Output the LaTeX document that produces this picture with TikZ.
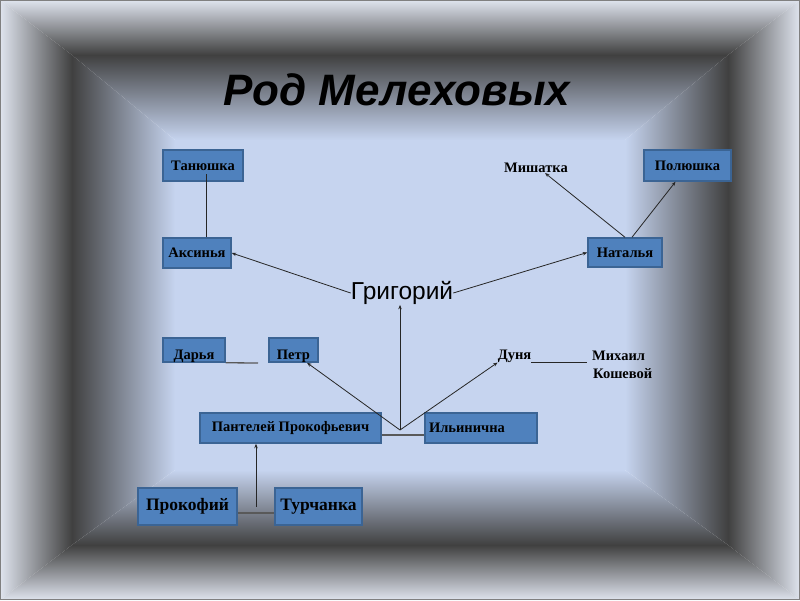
\documentclass[tikz,border=0pt]{standalone}
\usepackage{fontspec}
\setmainfont{Liberation Serif}
\newfontfamily\sansf{Liberation Sans}
\usetikzlibrary{arrows.meta,calc}
\definecolor{edgeC}{HTML}{DFE4EE}
\definecolor{darkC}{HTML}{404040}
\definecolor{lightC}{HTML}{C6D4EF}
\definecolor{boxF}{HTML}{4F81BD}
\definecolor{boxD}{HTML}{3B6494}
\begin{document}
\begin{tikzpicture}[x=1pt,y=-1pt,
 box/.style={draw=boxD, line width=1.5pt, fill=boxF, inner sep=0pt, font=\bfseries\fontsize{14.5}{16}\selectfont},
 bigbox/.style={box, font=\bfseries\fontsize{17.5}{20}\selectfont},
 plain/.style={inner sep=0pt, font=\bfseries\fontsize{14.5}{18}\selectfont},
 arr/.style={draw=black!85, line width=0.8pt, -{Stealth[length=4.5pt,width=3.5pt]}},
 link/.style={draw=black!65, line width=1.3pt},
 thinline/.style={draw=black!85, line width=0.8pt}]
% ---------- background frame ----------
\useasboundingbox (0,0) rectangle (800,600);
\fill[lightC] (175,140) rectangle (625,470);
% inner bands
\shade[left color=darkC, right color=lightC] (72,55) -- (175,140) -- (175,470) -- (72,545) -- cycle;
\shade[left color=lightC, right color=darkC] (728,55) -- (625,140) -- (625,470) -- (728,545) -- cycle;
\shade[top color=darkC, bottom color=lightC] (72,55) -- (728,55) -- (625,140) -- (175,140) -- cycle;
\shade[top color=lightC, bottom color=darkC] (175,470) -- (625,470) -- (728,545) -- (72,545) -- cycle;
% outer bands
\shade[left color=edgeC, right color=darkC] (0,0) -- (72,55) -- (72,545) -- (0,600) -- cycle;
\shade[left color=darkC, right color=edgeC] (800,0) -- (728,55) -- (728,545) -- (800,600) -- cycle;
\shade[top color=edgeC, bottom color=darkC] (0,0) -- (800,0) -- (728,55) -- (72,55) -- cycle;
\shade[top color=darkC, bottom color=edgeC] (72,545) -- (728,545) -- (800,600) -- (0,600) -- cycle;
\draw[gray, line width=1pt] (0.5,0.5) rectangle (799.5,599.5);
% ---------- title ----------
\node[inner sep=0pt, font=\sansf\bfseries\itshape\fontsize{44}{48}\selectfont] (title) at (397,90) {Род Мелеховых};
% ---------- nodes ----------
\node[box, minimum width=80pt, minimum height=31pt] (tan) at (203,165.5) {Танюшка};
\node[box, minimum width=68pt, minimum height=30pt] (aks) at (197,253) {Аксинья};
\node[box, minimum width=87pt, minimum height=31pt] (pol) at (687.5,165.5) {Полюшка};
\node[box, minimum width=74pt, minimum height=29pt] (nat) at (625,252.5) {Наталья};
\node[plain] (mish) at (536,168) {Мишатка};
\node[inner sep=0pt, font=\sansf\fontsize{24.5}{26}\selectfont] (grig) at (402,293) {Григорий};
\node[box, minimum width=62pt, minimum height=24pt] (dar) at (194,350) {\raisebox{-6.5pt}[\height][\depth]{Дарья}};
\node[box, minimum width=49pt, minimum height=24pt] (petr) at (293.5,350) {\raisebox{-6.5pt}[\height][\depth]{Петр}};
\node[plain] (duna) at (514.5,356) {Дуня};
\node[plain, anchor=north west, align=left] (mikh) at (592,351) {Михаил\\\hspace{1pt}Кошевой};
\node[box, minimum width=181pt, minimum height=30pt] (pan) at (290.5,428) {Пантелей Прокофьевич};
\node[box, minimum width=112pt, minimum height=30pt, text width=104pt, align=left] (ili) at (481,428) {Ильинична};
\node[bigbox, minimum width=99pt, minimum height=37pt] (prok) at (187.5,506.5) {Прокофий};
\node[bigbox, minimum width=87pt, minimum height=37pt] (turch) at (318.5,506.5) {Турчанка};
% ---------- connectors ----------
\coordinate (J) at (400,430);
\coordinate (darE) at (258,363);
\draw[thinline] ([xshift=9pt]aks.north) -- ([xshift=3pt,yshift=-8pt]tan.center);
\draw[arr] (grig.west) -- (aks.east);
\draw[arr] (grig.east) -- (nat.west);
\draw[arr] (nat.north) -- ([xshift=9pt]mish.south);
\draw[arr] ([xshift=7pt]nat.north) -- ([xshift=-12pt]pol.south);
\draw[link] (dar.south east) -- (darE);
\draw[link] ([yshift=-7pt]pan.east) -- ([yshift=-7pt]ili.west);
\draw[link] ([yshift=-6.5pt]prok.east) -- ([yshift=-6.5pt]turch.west);
\draw[thinline] (duna.south east) -- ([xshift=-5pt]duna.south east -| mikh.west);
\draw[arr] (J) -- (J |- grig.south);
\draw[arr] (J) -- ([xshift=13.5pt]petr.south);
\draw[arr] (J) -- (duna.south west);
\coordinate (PT) at ($(prok.east)!0.5!(turch.west)$);
\draw[arr] (PT) -- (PT |- pan.south);
\end{tikzpicture}
\end{document}
